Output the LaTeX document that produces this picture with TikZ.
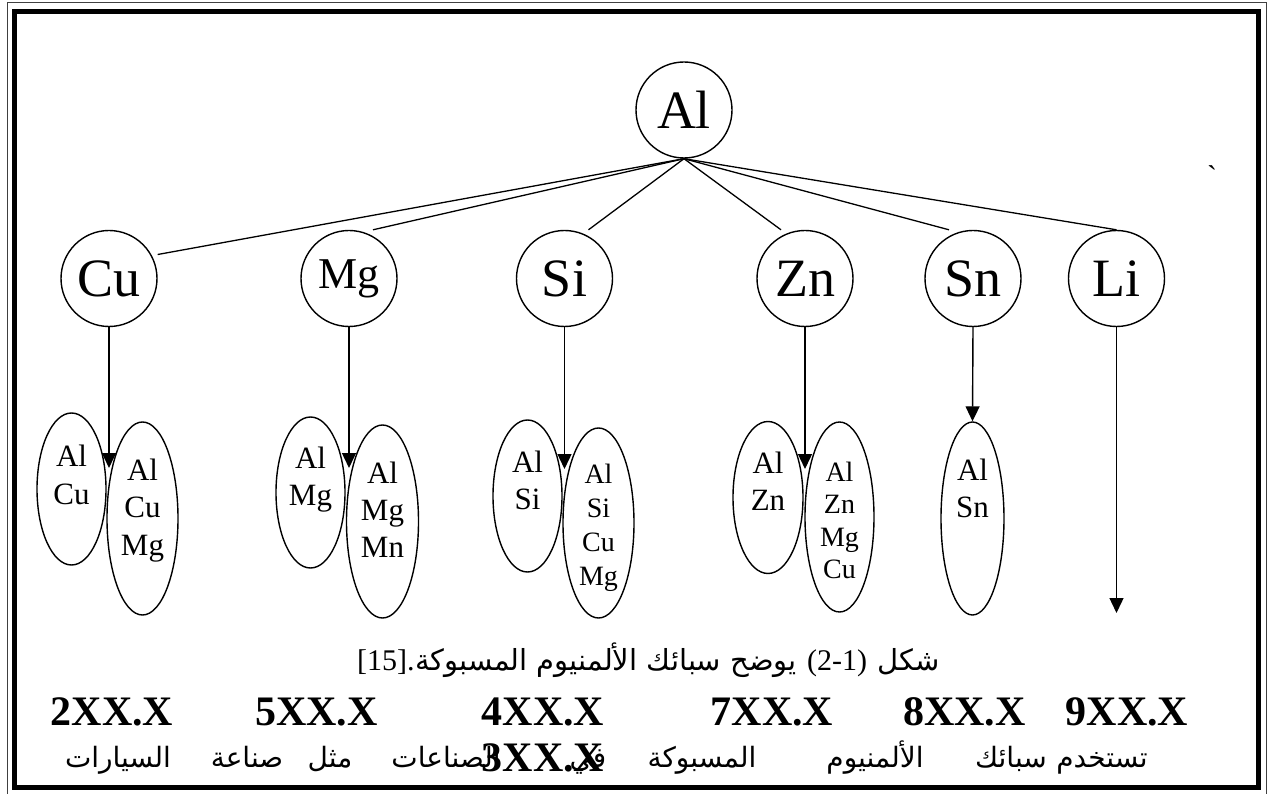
\documentclass[tikz,border=0pt]{standalone}
\usepackage{fontspec}
\setmainfont{Liberation Serif}
\newfontfamily\arabicfont[Script=Arabic]{DejaVu Sans}
\TeXXeTstate=1
\usetikzlibrary{arrows.meta,shapes.geometric}
\begin{document}
\begin{tikzpicture}[x=1pt,y=-1pt,
  el/.style={circle,draw,line width=1.4pt,minimum size=96pt,inner sep=0pt,font=\fontsize{54}{60}\selectfont},
  sub/.style={ellipse,draw,line width=1.4pt,inner sep=0pt},
  lab/.style={anchor=base,inner sep=0pt,font=\fontsize{31}{37}\selectfont},
  labs/.style={anchor=base,inner sep=0pt,font=\fontsize{28}{33}\selectfont},
  con/.style={line width=1.3pt},
  arr/.style={line width=1.4pt,-{Triangle[length=15pt,width=14pt]}},
  code/.style={anchor=base,inner sep=0pt,font=\bfseries\fontsize{42}{46}\selectfont},
  ar/.style={anchor=base,inner sep=0pt,font=\arabicfont\fontsize{28}{32}\selectfont},
  capar/.style={anchor=base east,inner sep=0pt,font=\arabicfont\fontsize{29}{32}\selectfont},
  caprm/.style={anchor=base east,inner sep=0pt,font=\fontsize{30}{32}\selectfont},
]
\useasboundingbox (0,0) rectangle (1270,794);
\clip (0,0) rectangle (1270,794);
\fill[white] (0,0) rectangle (1270,794);

% frame
\draw[line width=1pt,black!75] (7,3) rectangle (1266,830);
\draw[line width=5.5pt] (14.5,11.5) rectangle (1258.5,787.5);

% main nodes
\node[el] (Al) at (684,110) {Al};
\node[el] (Cu) at (109,278.5) {Cu};
\node[el,font=\fontsize{44}{50}\selectfont] (Mg) at (349,278.5) {Mg};
\node[el] (Si) at (564.5,278.5) {Si};
\node[el] (Zn) at (805,278.5) {Zn};
\node[el] (Sn) at (973,278.5) {Sn};
\node[el] (Li) at (1116.5,278.5) {Li};

% connectors from Al
\draw[con] (Al.south) -- ([yshift=24pt]Cu.east);
\draw[con] (Al.south) -- ([xshift=24pt]Mg.north);
\draw[con] (Al.south) -- ([xshift=24pt]Si.north);
\draw[con] (Al.south) -- ([xshift=-24pt]Zn.north);
\draw[con] (Al.south) -- ([xshift=-24pt]Sn.north);
\draw[con] (Al.south) -- (Li.north);

% sub-alloy ellipses
\node[sub,minimum width=69pt,minimum height=152pt] (cuA) at (71.5,489) {};
\node[sub,minimum width=71pt,minimum height=193pt] (cuB) at (142.5,518.5) {};
\node[sub,minimum width=69pt,minimum height=151pt] (mgA) at (310.5,492.5) {};
\node[sub,minimum width=72pt,minimum height=193pt] (mgB) at (382.5,521.5) {};
\node[sub,minimum width=69pt,minimum height=152pt] (siA) at (527.5,496) {};
\node[sub,minimum width=71pt,minimum height=190pt] (siB) at (598.5,523) {};
\node[sub,minimum width=70pt,minimum height=152pt] (znA) at (768,497.5) {};
\node[sub,minimum width=69pt,minimum height=190pt] (znB) at (839.5,517) {};
\node[sub,minimum width=63pt,minimum height=193pt] (snA) at (972.5,518.5) {};

% labels in ellipses
\node[lab] (cuA1) at (71.5,467) {Al};
\node[lab] (cuA2) at (71.5,504) {Cu};
\node[lab] (cuB1) at (142.5,480) {Al};
\node[lab] (cuB2) at (142.5,517) {Cu};
\node[lab] (cuB3) at (142.5,555) {Mg};
\node[lab] (mgA1) at (310.5,468) {Al};
\node[lab] (mgA2) at (310.5,505) {Mg};
\node[lab] (mgB1) at (382.5,483) {Al};
\node[lab] (mgB2) at (382.5,520) {Mg};
\node[lab] (mgB3) at (382.5,557) {Mn};
\node[lab] (siA1) at (527.5,472) {Al};
\node[lab] (siA2) at (527.5,509) {Si};
\node[labs] (siB1) at (598.5,483) {Al};
\node[labs] (siB2) at (598.5,517) {Si};
\node[labs] (siB3) at (598.5,551) {Cu};
\node[labs] (siB4) at (598.5,585) {Mg};
\node[lab] (znA1) at (768,473) {Al};
\node[lab] (znA2) at (768,510) {Zn};
\node[labs] (znB1) at (839.5,481) {Al};
\node[labs] (znB2) at (839.5,513.5) {Zn};
\node[labs] (znB3) at (839.5,546) {Mg};
\node[labs] (znB4) at (839.5,578.5) {Cu};
\node[lab] (snA1) at (972.5,480) {Al};
\node[lab] (snA2) at (972.5,517) {Sn};

% vertical arrows
\coordinate (cuT) at (109,468);
\coordinate (mgT) at (349,468);
\coordinate (siT) at (564.5,469);
\coordinate (znT) at (805,469);
\coordinate (liT) at (1116.5,613);
\draw[arr] (Cu.south) -- (cuT);
\draw[arr] (Mg.south) -- (mgT);
\draw[arr] (Si.south) -- (siT);
\draw[arr] (Zn.south) -- (znT);
\draw[arr] (Sn.south) -- (snA.north);
\draw[arr] (Li.south) -- (liT);

% stray mark
\node[anchor=north,inner sep=0pt,font=\fontsize{30}{30}\selectfont] (tick) at (1212,165) {\textasciigrave};

% caption, built right to left from separate pieces
\node[capar] (cap4) at (940,670) {شكل};
\node[caprm] (cap3) at ([xshift=-10pt]cap4.base west) {(2-1)};
\node[capar] (cap2) at ([xshift=-10pt]cap3.base west) {\beginR يوضح سبائك الألمنيوم المسبوكة\endR};
\node[caprm] (cap1) at (cap2.base west) {[15].};

% series codes
\node[code] (s2) at (112,725) {2XX.X};
\node[code] (s5) at (316.5,725) {5XX.X};
\node[code] (s4) at (543,725) {4XX.X};
\node[code] (s7) at (772,725) {7XX.X};
\node[code] (s8) at (964.5,725) {8XX.X};
\node[code] (s9) at (1127,725) {9XX.X};
\node[code] (s3) at (543,771) {3XX.X};

% body text line (justified)
\node[ar] (w1) at (1102,767) {تستخدم};
\node[ar] (w2) at (1011,767) {سبائك};
\node[ar] (w3) at (875,767) {الألمنيوم};
\node[ar] (w4) at (702,767) {المسبوكة};
\node[ar] (w5) at (588,767) {في};
\node[ar] (w6) at (446,767) {الصناعات};
\node[ar] (w7) at (330,767) {مثل};
\node[ar] (w8) at (247,767) {صناعة};
\node[ar] (w9) at (118,767) {السيارات};
\end{tikzpicture}
\end{document}
